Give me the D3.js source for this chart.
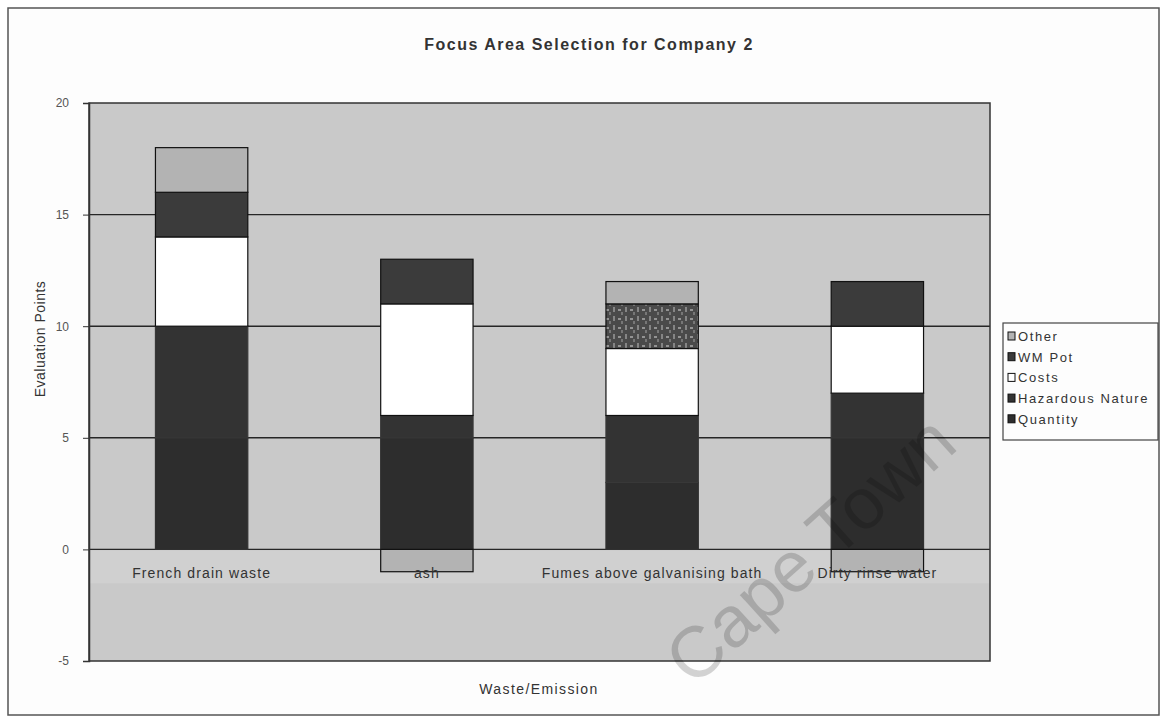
<!DOCTYPE html>
<html>
<head>
<meta charset="utf-8">
<script src="https://cdn.jsdelivr.net/npm/d3@7"></script>
<style>
  html, body { margin: 0; padding: 0; background: #fff; }
  svg { display: block; font-family: "Liberation Sans", Arial, sans-serif; }
</style>
</head>
<body>
<svg id="chart" width="1164" height="721"></svg>
<script>
// Waste streams evaluated for Company 2
const categories = ["French drain waste", "ash", "Fumes above galvanising bath", "Dirty rinse water"];

// Evaluation points per criterion (stacked)
const quantity  = [5, 5, 3, 5];
const hazardous = [5, 1, 3, 2];
const costs     = [4, 5, 3, 3];
const wmPot     = [2, 2, 2, 2];
const other     = [2, -1, 1, -1];

const seriesNames = ["Quantity", "Hazardous Nature", "Costs", "WM Pot", "Other"];
const seriesValues = [quantity, hazardous, costs, wmPot, other];
const yTicks = [-5, 0, 5, 10, 15, 20];

const colors = {
  "Quantity": "#2d2d2d",
  "Hazardous Nature": "#333333",
  "Costs": "#ffffff",
  "WM Pot": "#3b3b3b",
  "Other": "#b3b3b3"
};
// the two lowest criteria share a soft edge so their join stays faint
const strokes = {
  "Quantity": "#303030",
  "Hazardous Nature": "#383838",
  "Costs": "#111",
  "WM Pot": "#111",
  "Other": "#111"
};

const rows = categories.map((c, i) => {
  const r = { category: c };
  seriesNames.forEach((s, j) => { r[s] = seriesValues[j][i]; });
  return r;
});

const svg = d3.select("#chart");
const plot = { left: 89, right: 990, top: 103, bottom: 661 };

// outer chart frame
svg.append("rect").attr("x", 8).attr("y", 8).attr("width", 1151).attr("height", 707)
  .attr("fill", "#fdfdfd").attr("stroke", "#555").attr("stroke-width", 1.5);

const x = d3.scaleBand().domain(categories)
  .range([plot.left, plot.right]).paddingInner(0.59).paddingOuter(0.295);
const y = d3.scaleLinear().domain([-5, 20]).range([plot.bottom, plot.top]);

// plot area
svg.append("rect").attr("x", plot.left).attr("y", plot.top)
  .attr("width", plot.right - plot.left).attr("height", plot.bottom - plot.top)
  .attr("fill", "#c9c9c9");
svg.append("rect").attr("x", plot.left).attr("y", y(0) + 1)
  .attr("width", plot.right - plot.left).attr("height", 33)
  .attr("fill", "#d0d0d0");

// speckle texture used on one of the WM Pot segments
const defs = svg.append("defs");
const pat = defs.append("pattern").attr("id", "speckle")
  .attr("patternUnits", "userSpaceOnUse").attr("width", 12).attr("height", 9);
pat.append("rect").attr("width", 12).attr("height", 9).attr("fill", "#4a4a4a");
pat.append("rect").attr("x", 1).attr("y", 1).attr("width", 2).attr("height", 5).attr("fill", "#858585");
pat.append("rect").attr("x", 6).attr("y", 3).attr("width", 3).attr("height", 2).attr("fill", "#939393");
pat.append("rect").attr("x", 9).attr("y", 6).attr("width", 2).attr("height", 3).attr("fill", "#777");

// gridlines
svg.append("g").selectAll("line").data(yTicks.filter(t => t > -5 && t < 20)).join("line")
  .attr("x1", plot.left).attr("x2", plot.right)
  .attr("y1", d => y(d)).attr("y2", d => y(d))
  .attr("stroke", "#262626").attr("stroke-width", 1.4);

// stacked bars (negatives stack below zero)
const stack = d3.stack().keys(seriesNames).offset(d3.stackOffsetDiverging);
const layers = stack(rows);

svg.append("g").selectAll("g").data(layers).join("g")
  .each(function(layer) {
    d3.select(this).selectAll("rect").data(layer).join("rect")
      .attr("x", d => x(d.data.category))
      .attr("width", x.bandwidth())
      .attr("y", d => y(Math.max(d[0], d[1])))
      .attr("height", d => Math.abs(y(d[0]) - y(d[1])))
      .attr("fill", d => (layer.key === "WM Pot" && d.data.category === "Fumes above galvanising bath")
        ? "url(#speckle)" : colors[layer.key])
      .attr("stroke", strokes[layer.key]).attr("stroke-width", 1.2);
  });

// plot frame
svg.append("rect").attr("x", plot.left).attr("y", plot.top)
  .attr("width", plot.right - plot.left).attr("height", plot.bottom - plot.top)
  .attr("fill", "none").attr("stroke", "#333").attr("stroke-width", 1.5);

// y axis
const yAxis = svg.append("g").attr("transform", `translate(${plot.left},0)`)
  .call(d3.axisLeft(y).tickValues(yTicks).tickFormat(d => String(d)).tickSize(6).tickPadding(14));
yAxis.select(".domain").attr("stroke", "#333").attr("stroke-width", 1.5);
yAxis.selectAll(".tick line").attr("stroke", "#333");
yAxis.selectAll("text").attr("fill", "#555").attr("font-size", 12)
  .attr("font-family", "Liberation Sans, Arial, sans-serif");

// category labels just under the zero line
svg.append("g").selectAll("text").data(categories).join("text")
  .attr("x", d => x(d) + x.bandwidth() / 2).attr("y", y(0) + 29)
  .attr("text-anchor", "middle").attr("font-size", 14).attr("letter-spacing", 1.1)
  .attr("fill", "#333")
  .text(d => d);

// titles
svg.append("text").attr("x", 589).attr("y", 50).attr("text-anchor", "middle")
  .attr("font-size", 16).attr("font-weight", "bold").attr("letter-spacing", 1.5)
  .attr("fill", "#333")
  .text("Focus Area Selection for Company 2");
svg.append("text").attr("x", 539).attr("y", 694).attr("text-anchor", "middle")
  .attr("font-size", 14).attr("letter-spacing", 1.4).attr("fill", "#333")
  .text("Waste/Emission");
svg.append("text").attr("transform", "translate(45,339) rotate(-90)")
  .attr("text-anchor", "middle").attr("font-size", 14).attr("letter-spacing", 0.5)
  .attr("fill", "#333")
  .text("Evaluation Points");

// legend, listed top-down from last series to first
const legend = svg.append("g");
legend.append("rect").attr("x", 1003).attr("y", 323).attr("width", 155).attr("height", 117)
  .attr("fill", "#fdfdfd").attr("stroke", "#444").attr("stroke-width", 1.2);
const legendItems = seriesNames.slice().reverse();
const li = legend.selectAll("g.item").data(legendItems).join("g").attr("class", "item")
  .attr("transform", (d, i) => `translate(1008,${336 + i * 20.7})`);
li.append("rect").attr("x", 0).attr("y", -4).attr("width", 7).attr("height", 8)
  .attr("fill", d => colors[d]).attr("stroke", "#111").attr("stroke-width", 1);
li.append("text").attr("x", 10).attr("y", 5).attr("font-size", 13).attr("letter-spacing", 1.6)
  .attr("fill", "#333")
  .text(d => d);

// faint diagonal watermark
svg.append("text")
  .attr("transform", "translate(960,448) rotate(-42)")
  .attr("text-anchor", "end").attr("font-size", 72)
  .attr("fill", "#000").attr("fill-opacity", 0.17)
  .text("Cape Town");
</script>
</body>
</html>
